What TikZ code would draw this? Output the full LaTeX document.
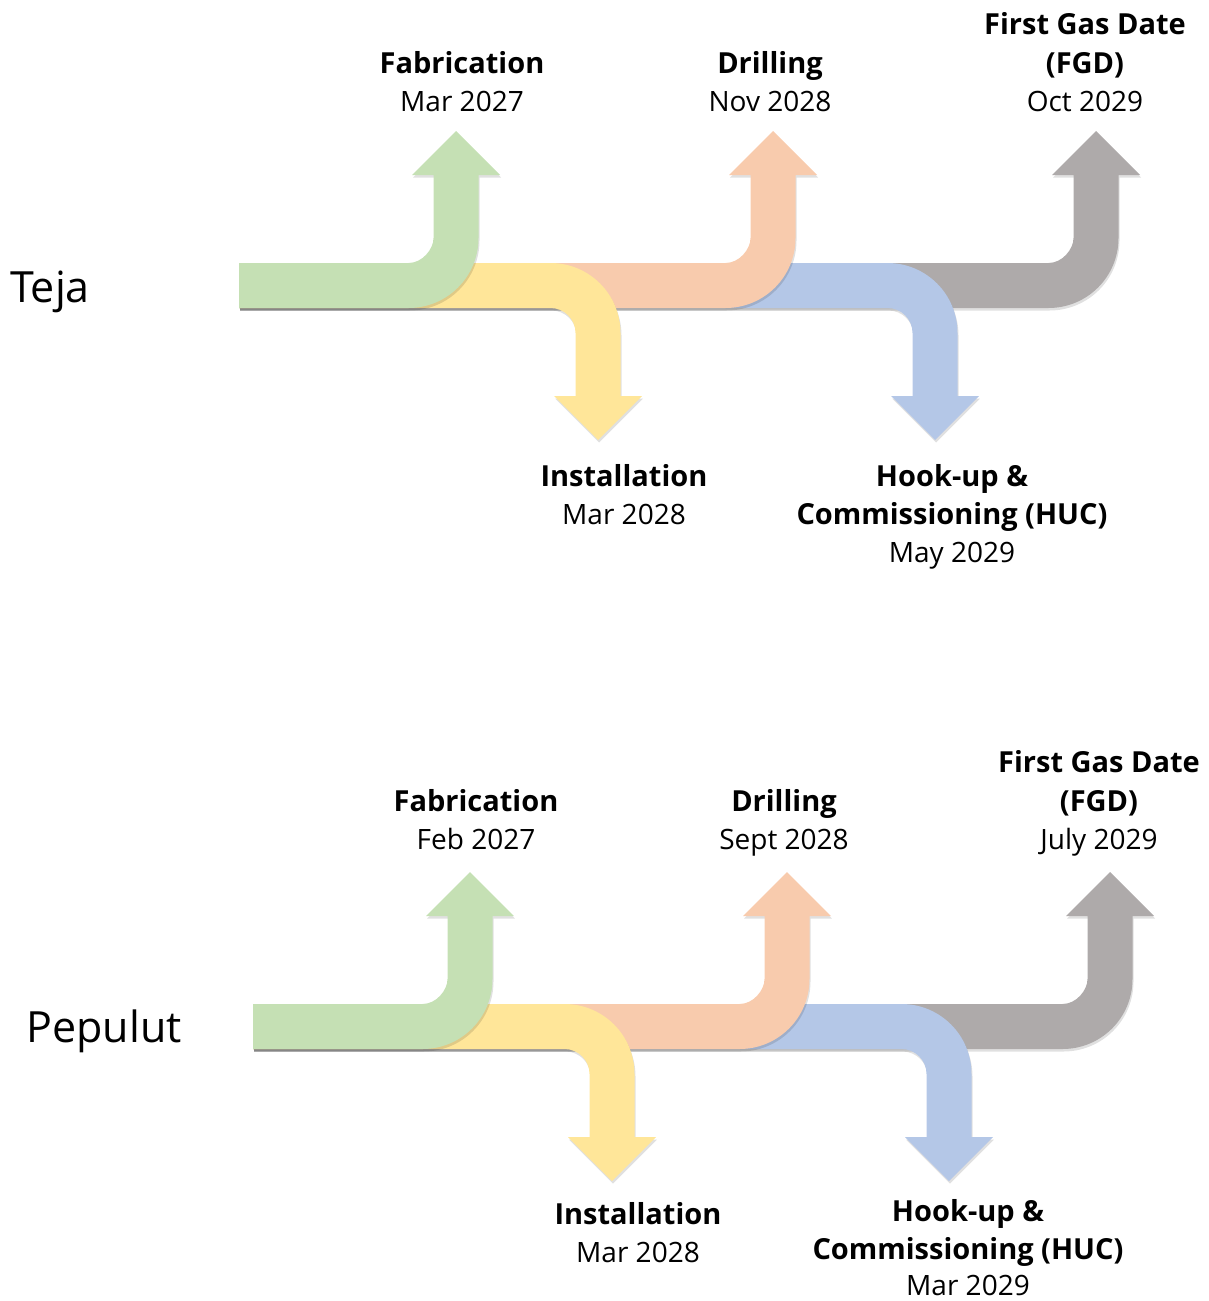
\documentclass[tikz,border=0pt]{standalone}
\usepackage{fontspec}
\setmainfont{Open Sans}
\usetikzlibrary{shadows}
\definecolor{cgreen}{HTML}{C5E0B4}
\definecolor{cyellow}{HTML}{FFE699}
\definecolor{cpeach}{HTML}{F8CBAD}
\definecolor{cblue}{HTML}{B4C7E7}
\definecolor{cgray}{HTML}{AEAAAA}
\tikzset{
  arrshadow/.style={drop shadow={shadow xshift=1pt, shadow yshift=-2.5pt, opacity=0.12, fill=black}},
  lbold/.style={anchor=base, inner sep=0pt, font=\fontsize{29}{34}\selectfont\bfseries},
  lreg/.style={anchor=base, inner sep=0pt, font=\fontsize{28}{34}\selectfont},
  lname/.style={anchor=base, inner sep=0pt, font=\fontsize{43}{50}\selectfont}
}
% up arrow: #1 centre x of shaft, #2 colour
\newcommand\myArrUp[2]{%
  \pgfmathsetmacro\myxL{#1-22.5}\pgfmathsetmacro\myxR{#1+22.5}%
  \pgfmathsetmacro\myhL{#1-44}\pgfmathsetmacro\myhR{#1+44}%
  \fill[#2, arrshadow] (239,263) -- (\myxL-25,263)
    .. controls (\myxL-25+13.8,263) and (\myxL,263-13.8) .. (\myxL,263-25)
    -- (\myxL,175) -- (\myhL,175) -- (#1,131) -- (\myhR,175) -- (\myxR,175)
    -- (\myxR,308-70)
    .. controls (\myxR,308-70+38.7) and (\myxR-70+38.7,308) .. (\myxR-70,308)
    -- (239,308) -- cycle;}
% down arrow
\newcommand\myArrDown[2]{%
  \pgfmathsetmacro\myxL{#1-22.5}\pgfmathsetmacro\myxR{#1+22.5}%
  \pgfmathsetmacro\myhL{#1-44}\pgfmathsetmacro\myhR{#1+44}%
  \fill[#2, arrshadow] (239,263) -- (\myxR-70,263)
    .. controls (\myxR-70+38.7,263) and (\myxR,263+70-38.7) .. (\myxR,263+70)
    -- (\myxR,396) -- (\myhR,396) -- (#1,440) -- (\myhL,396) -- (\myxL,396)
    -- (\myxL,308+25)
    .. controls (\myxL,308+25-13.8) and (\myxL-25+13.8,308) .. (\myxL-25,308)
    -- (239,308) -- cycle;}
\newcommand\myTimeline{%
  \myArrUp{1096}{cgray}
  \myArrDown{935}{cblue}
  \myArrUp{773}{cpeach}
  \myArrDown{598}{cyellow}
  \myArrUp{456}{cgreen}}
\begin{document}
\begin{tikzpicture}[x=1pt, y=-1pt]
\useasboundingbox (0,0) rectangle (1209,1301);
% ---- Teja ----
\myTimeline
\node[lname] (teja) at (50,302) {Teja};
\node[lbold] (fabT1) at (462,73) {Fabrication};
\node[lreg]  (fabT2) at (462,111) {Mar 2027};
\node[lbold] (drlT1) at (770,73) {Drilling};
\node[lreg]  (drlT2) at (770,111) {Nov 2028};
\node[lbold] (fgdT1) at (1085,34) {First Gas Date};
\node[lbold] (fgdT2) at (1085,73) {(FGD)};
\node[lreg]  (fgdT3) at (1085,111) {Oct 2029};
\node[lbold] (insT1) at (624,486) {Installation};
\node[lreg]  (insT2) at (624,524) {Mar 2028};
\node[lbold] (hucT1) at (952,486) {Hook-up \&};
\node[lbold] (hucT2) at (952,524) {Commissioning (HUC)};
\node[lreg]  (hucT3) at (952,562) {May 2029};
% ---- Pepulut ----
\begin{scope}[shift={(14,741)}]
\myTimeline
\end{scope}
\node[lname] (pepulut) at (104,1042) {Pepulut};
\node[lbold] (fabP1) at (476,811) {Fabrication};
\node[lreg]  (fabP2) at (476,849) {Feb 2027};
\node[lbold] (drlP1) at (784,811) {Drilling};
\node[lreg]  (drlP2) at (784,849) {Sept 2028};
\node[lbold] (fgdP1) at (1099,772) {First Gas Date};
\node[lbold] (fgdP2) at (1099,811) {(FGD)};
\node[lreg]  (fgdP3) at (1099,849) {July 2029};
\node[lbold] (insP1) at (638,1224) {Installation};
\node[lreg]  (insP2) at (638,1262) {Mar 2028};
\node[lbold] (hucP1) at (968,1221) {Hook-up \&};
\node[lbold] (hucP2) at (968,1259) {Commissioning (HUC)};
\node[lreg]  (hucP3) at (968,1295) {Mar 2029};
\end{tikzpicture}
\end{document}
